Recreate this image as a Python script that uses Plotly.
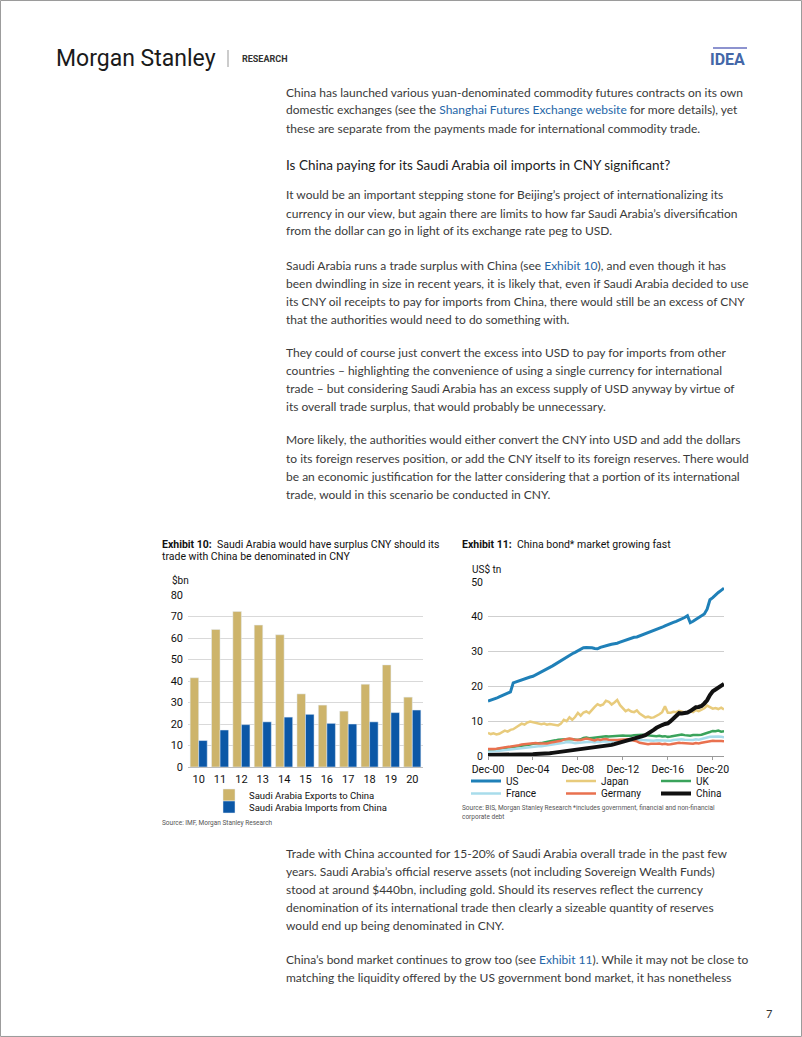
import pandas as pd
import plotly.graph_objects as go

W, H = 802, 1037

# ---------------- Exhibit 10 data ----------------
years = ["10", "11", "12", "13", "14", "15", "16", "17", "18", "19", "20"]
sa_exports = [41.5, 64.0, 72.3, 66.0, 61.5, 34.0, 28.8, 26.0, 38.5, 47.5, 32.5]
sa_imports = [12.3, 17.2, 19.7, 21.0, 23.2, 24.5, 20.3, 20.0, 21.0, 25.3, 26.5]

# ---------------- Exhibit 11 data (quarterly, Dec-00 .. Dec-21) ----------------
quarters = pd.date_range("2000-12-31", "2021-12-31", freq="QE")
us = [15.8,
      16.0, 16.3, 16.6, 17.0, 17.3, 17.6, 18.0, 18.4, 21.0, 21.3, 21.7, 22.0,
      22.3, 22.5, 22.7, 22.9, 23.3, 23.7, 24.1, 24.6, 25.0, 25.4, 25.9, 26.4,
      26.9, 27.4, 28.0, 28.6, 29.0, 29.4, 29.8, 30.3, 30.7, 31.1, 31.2, 31.2,
      31.1, 30.9, 30.8, 31.2, 31.5, 31.7, 31.9, 32.1, 32.2, 32.4, 32.7, 33.0,
      33.2, 33.5, 33.8, 34.1, 34.2, 34.5, 34.8, 35.1, 35.3, 35.6, 35.9, 36.2,
      36.6, 37.0, 37.4, 37.8, 38.1, 38.4, 38.7, 39.0, 39.4, 39.8, 40.3, 38.3,
      38.7, 39.2, 39.7, 40.1, 40.8, 42.2, 44.9, 45.5, 46.3, 47.0, 47.6, 48.2]
japan = [6.6,
         6.3, 6.5, 6.2, 6.4, 6.8, 7.3, 7.0, 7.5, 7.7, 8.2, 8.7, 9.3,
         9.0, 9.6, 9.9, 9.7, 9.4, 9.3, 9.1, 9.3, 9.0, 9.2, 9.1, 9.0,
         8.8, 9.3, 10.4, 10.0, 11.1, 10.4, 11.2, 12.4, 11.6, 12.5, 12.8, 12.3,
         13.3, 14.1, 14.9, 14.5, 14.8, 15.9, 15.6, 14.8, 15.4, 16.1, 14.6, 13.6,
         12.9, 13.3, 12.8, 12.6, 13.1, 12.2, 11.6, 11.1, 11.3, 11.0, 11.1, 11.5,
         12.0, 12.6, 14.3, 12.4, 12.4, 12.7, 12.6, 13.0, 12.8, 12.5, 12.6, 12.9,
         12.6, 13.2, 12.9, 13.3, 13.7, 14.5, 14.0, 13.6, 13.8, 13.5, 13.9, 13.4]
uk = [1.6,
      1.7, 1.8, 1.9, 2.0, 2.1, 2.2, 2.3, 2.5, 2.6, 2.7, 2.8, 3.0,
      3.1, 3.2, 3.3, 3.5, 3.5, 3.6, 3.7, 3.9, 4.0, 4.2, 4.3, 4.5,
      4.7, 4.8, 4.9, 5.0, 4.9, 4.8, 4.6, 4.6, 4.8, 5.2, 5.3, 5.1,
      5.2, 5.3, 5.5, 5.4, 5.6, 5.7, 5.6, 5.7, 5.8, 5.7, 5.8, 5.9,
      5.8, 5.7, 5.8, 6.0, 6.1, 6.2, 6.1, 6.0, 5.9, 6.0, 5.8, 5.7,
      5.8, 5.6, 5.7, 5.5, 5.6, 5.8, 6.0, 6.1, 6.2, 6.0, 5.9, 5.8,
      6.0, 5.9, 6.0, 6.1, 6.3, 6.7, 6.9, 7.2, 7.1, 7.3, 7.0, 7.1]
france = [1.2,
          1.2, 1.3, 1.4, 1.5, 1.6, 1.7, 1.8, 1.9, 2.0, 2.1, 2.2, 2.3,
          2.4, 2.5, 2.6, 2.7, 2.7, 2.8, 2.8, 2.9, 3.0, 3.1, 3.2, 3.4,
          3.5, 3.6, 3.8, 4.0, 4.0, 3.9, 3.7, 3.8, 3.9, 4.1, 4.2, 4.1,
          4.0, 3.9, 4.1, 4.0, 4.2, 4.3, 4.2, 4.1, 4.3, 4.4, 4.4, 4.5,
          4.5, 4.4, 4.5, 4.6, 4.6, 4.7, 4.6, 4.5, 4.4, 4.5, 4.4, 4.5,
          4.5, 4.4, 4.4, 4.3, 4.4, 4.6, 4.7, 4.8, 4.8, 4.7, 4.6, 4.7,
          4.6, 4.8, 4.7, 4.9, 5.0, 5.3, 5.5, 5.6, 5.5, 5.6, 5.5, 5.4]
germany = [2.0,
           1.9, 2.0, 2.1, 2.2, 2.3, 2.4, 2.5, 2.7, 2.9, 3.0, 3.1, 3.3,
           3.4, 3.5, 3.6, 3.8, 3.7, 3.6, 3.6, 3.5, 3.6, 3.8, 3.9, 4.1,
           4.2, 4.4, 4.7, 4.9, 5.0, 4.9, 4.6, 4.7, 4.6, 4.8, 5.0, 4.9,
           4.7, 4.5, 4.8, 4.6, 4.8, 4.9, 4.7, 4.6, 4.7, 4.6, 4.7, 4.8,
           4.9, 4.8, 4.6, 4.5, 4.2, 3.8, 3.6, 3.5, 3.4, 3.5, 3.4, 3.5,
           3.6, 3.4, 3.5, 3.3, 3.4, 3.6, 3.7, 3.8, 3.7, 3.6, 3.5, 3.6,
           3.5, 3.7, 3.6, 3.8, 4.0, 4.2, 4.3, 4.4, 4.3, 4.4, 4.3, 4.2]
china = [0.3,
         0.3, 0.3, 0.3, 0.3, 0.3, 0.3, 0.3, 0.4, 0.4, 0.4, 0.4, 0.4,
         0.4, 0.5, 0.5, 0.5, 0.6, 0.6, 0.7, 0.7, 0.8, 0.8, 0.9, 1.0,
         1.1, 1.2, 1.4, 1.5, 1.7, 1.8, 1.9, 2.0, 2.1, 2.2, 2.3, 2.4,
         2.5, 2.6, 2.7, 2.8, 2.9, 3.0, 3.1, 3.2, 3.4, 3.6, 3.8, 4.1,
         4.3, 4.5, 4.7, 4.9, 5.1, 5.4, 5.7, 6.0, 6.4, 6.9, 7.5, 8.1,
         8.6, 8.9, 9.2, 9.4, 10.0, 10.8, 11.7, 12.3, 12.2, 12.3, 12.5, 12.9,
         13.5, 14.0, 14.1, 14.4, 15.1, 16.0, 17.5, 18.6, 19.1, 19.7, 20.2, 20.7]

# ---------------- page text ----------------
LINK = "#2566a8"
def link(t):
    return f'<span style="color:{LINK}">{t}</span>'

body_lines = [
    (92, "China has launched various yuan-denominated commodity futures contracts on its own"),
    (110, "domestic exchanges (see the " + link("Shanghai Futures Exchange website") + " for more details), yet"),
    (128, "these are separate from the payments made for international commodity trade."),
    (195, "It would be an important stepping stone for Beijing’s project of internationalizing its"),
    (213, "currency in our view, but again there are limits to how far Saudi Arabia’s diversification"),
    (231, "from the dollar can go in light of its exchange rate peg to USD."),
    (265.5, "Saudi Arabia runs a trade surplus with China (see " + link("Exhibit 10") + "), and even though it has"),
    (283.5, "been dwindling in size in recent years, it is likely that, even if Saudi Arabia decided to use"),
    (301.5, "its CNY oil receipts to pay for imports from China, there would still be an excess of CNY"),
    (319.5, "that the authorities would need to do something with."),
    (352.5, "They could of course just convert the excess into USD to pay for imports from other"),
    (370.5, "countries – highlighting the convenience of using a single currency for international"),
    (388.5, "trade – but considering Saudi Arabia has an excess supply of USD anyway by virtue of"),
    (406.5, "its overall trade surplus, that would probably be unnecessary."),
    (440, "More likely, the authorities would either convert the CNY into USD and add the dollars"),
    (458, "to its foreign reserves position, or add the CNY itself to its foreign reserves. There would"),
    (476, "be an economic justification for the latter considering that a portion of its international"),
    (494, "trade, would in this scenario be conducted in CNY."),
    (853.5, "Trade with China accounted for 15-20% of Saudi Arabia overall trade in the past few"),
    (871.5, "years. Saudi Arabia’s official reserve assets (not including Sovereign Wealth Funds)"),
    (889.5, "stood at around $440bn, including gold. Should its reserves reflect the currency"),
    (907.5, "denomination of its international trade then clearly a sizeable quantity of reserves"),
    (925.5, "would end up being denominated in CNY."),
    (959, "China’s bond market continues to grow too (see " + link("Exhibit 11") + "). While it may not be close to"),
    (977, "matching the liquidity offered by the US government bond market, it has nonetheless"),
]
heading = "Is China paying for its Saudi Arabia oil imports in CNY significant?"

BODY_FONT = "Lato"
CHART_FONT = "Roboto"

def px_x(x):
    return x / W

def px_y(y):
    return 1 - y / H

fig = go.Figure()

# ---- Exhibit 10 bars ----
fig.add_trace(go.Bar(x=years, y=sa_exports, name="Saudi Arabia Exports to China",
                     marker_color="#CDB46B", xaxis="x", yaxis="y", legend="legend",
                     showlegend=True))
fig.add_trace(go.Bar(x=years, y=sa_imports, name="Saudi Arabia Imports from China",
                     marker_color="#0B57A6", xaxis="x", yaxis="y", legend="legend2",
                     showlegend=True))

# ---- Exhibit 11 lines ----
series = [
    ("US", us, "#1F80B8", 3, "legend3"),
    ("Japan", japan, "#E8CB7C", 2.5, "legend3"),
    ("UK", uk, "#3AA35B", 2.5, "legend3"),
    ("France", france, "#A8DCEB", 2.5, "legend4"),
    ("Germany", germany, "#E9714F", 2.5, "legend4"),
    ("China", china, "#111111", 4, "legend4"),
]
for name, vals, col, lw, lg in series:
    fig.add_trace(go.Scatter(x=quarters, y=vals, name=name, mode="lines",
                             line=dict(color=col, width=lw),
                             xaxis="x2", yaxis="y2", legend=lg, showlegend=True))

ann = []
for y, t in body_lines:
    ann.append(dict(x=px_x(284), y=px_y(y), xref="paper", yref="paper", text=t,
                    showarrow=False, xanchor="left", yanchor="middle",
                    font=dict(family=BODY_FONT, size=12, color="#3a3a3a")))
ann.append(dict(x=px_x(284), y=px_y(165), xref="paper", yref="paper", text=heading,
                showarrow=False, xanchor="left", yanchor="middle",
                font=dict(family=BODY_FONT, size=13.5, color="#222222")))

# header
ann += [
    dict(x=px_x(54), y=px_y(58), xref="paper", yref="paper", text="Morgan Stanley",
         showarrow=False, xanchor="left", yanchor="middle",
         font=dict(family="Roboto", size=23, color="#1a1a1a")),
    dict(x=px_x(240), y=px_y(59), xref="paper", yref="paper", text="<b>RESEARCH</b>",
         showarrow=False, xanchor="left", yanchor="middle",
         font=dict(family="Roboto", size=9, color="#333333")),
    dict(x=px_x(747), y=px_y(60), xref="paper", yref="paper", text="<b>IDEA</b>",
         showarrow=False, xanchor="right", yanchor="middle",
         font=dict(family="Roboto", size=16, color="#4467A8")),
    dict(x=px_x(774), y=px_y(1013), xref="paper", yref="paper", text="7",
         showarrow=False, xanchor="right", yanchor="middle",
         font=dict(family=BODY_FONT, size=11, color="#333333")),
]

# chart titles / labels
ann += [
    dict(x=px_x(160), y=px_y(544), xref="paper", yref="paper",
         text="<b>Exhibit 10:</b>  Saudi Arabia would have surplus CNY should its",
         showarrow=False, xanchor="left", yanchor="middle",
         font=dict(family=CHART_FONT, size=10.5, color="#111111")),
    dict(x=px_x(160), y=px_y(556.5), xref="paper", yref="paper",
         text="trade with China be denominated in CNY",
         showarrow=False, xanchor="left", yanchor="middle",
         font=dict(family=CHART_FONT, size=10.5, color="#111111")),
    dict(x=px_x(460), y=px_y(544), xref="paper", yref="paper",
         text="<b>Exhibit 11:</b>  China bond* market growing fast",
         showarrow=False, xanchor="left", yanchor="middle",
         font=dict(family=CHART_FONT, size=10.5, color="#111111")),
    dict(x=px_x(170), y=px_y(580), xref="paper", yref="paper", text="$bn",
         showarrow=False, xanchor="left", yanchor="middle",
         font=dict(family=CHART_FONT, size=10, color="#111111")),
    dict(x=px_x(470), y=px_y(569), xref="paper", yref="paper", text="US$ tn",
         showarrow=False, xanchor="left", yanchor="middle",
         font=dict(family=CHART_FONT, size=10, color="#111111")),
    dict(x=px_x(160), y=px_y(822.5), xref="paper", yref="paper",
         text="Source: IMF, Morgan Stanley Research",
         showarrow=False, xanchor="left", yanchor="middle",
         font=dict(family=CHART_FONT, size=6.5, color="#555555")),
    dict(x=px_x(460), y=px_y(808), xref="paper", yref="paper",
         text="Source: BIS, Morgan Stanley Research *includes government, financial and non-financial",
         showarrow=False, xanchor="left", yanchor="middle",
         font=dict(family=CHART_FONT, size=6.5, color="#555555")),
    dict(x=px_x(460), y=px_y(817), xref="paper", yref="paper",
         text="corporate debt",
         showarrow=False, xanchor="left", yanchor="middle",
         font=dict(family=CHART_FONT, size=6.5, color="#555555")),
]

shapes = [
    dict(type="rect", xref="paper", yref="paper", x0=0.0006, x1=0.9994, y0=0.0005, y1=0.9995,
         line=dict(color="#9a9a9a", width=1)),
    dict(type="line", xref="paper", yref="paper", x0=px_x(228), x1=px_x(228),
         y0=px_y(50), y1=px_y(67), line=dict(color="#999999", width=1)),
    dict(type="line", xref="paper", yref="paper", x0=px_x(713), x1=px_x(747),
         y0=px_y(48), y1=px_y(48), line=dict(color="#8d93cf", width=2)),
]

def leg(size, **kw):
    d = dict(orientation="h", xanchor="left", yanchor="middle",
             bgcolor="rgba(0,0,0,0)", itemwidth=30, tracegroupgap=0,
             font=dict(family=CHART_FONT, size=size, color="#111111"))
    d.update(kw)
    return d

fig.update_layout(
    width=W, height=H,
    showlegend=True,
    margin=dict(l=0, r=0, t=0, b=0, autoexpand=False),
    paper_bgcolor="white", plot_bgcolor="white",
    barmode="group", bargap=0.2, bargroupgap=0,
    annotations=ann, shapes=shapes,
    xaxis=dict(domain=[px_x(188), px_x(423)], anchor="y", type="category",
               showgrid=False, showline=True, linecolor="#bdbdbd", ticks="",
               automargin=False, ticklabelstandoff=2,
               tickfont=dict(family=CHART_FONT, size=11, color="#111111")),
    yaxis=dict(domain=[px_y(767), px_y(595)], anchor="x", range=[0, 80], dtick=10,
               showgrid=True, gridcolor="#d9d9d9", zeroline=False, ticks="",
               ticklabelstandoff=4, automargin=False,
               tickfont=dict(family=CHART_FONT, size=11, color="#111111")),
    xaxis2=dict(domain=[px_x(488), px_x(724)], anchor="y2", type="date",
                range=["2000-12-31", "2021-12-31"], tick0="2000-12-31", dtick="M48",
                tickformat="%b-%y", showgrid=False, showline=True, linecolor="#9a9a9a",
                ticks="outside", ticklen=3, tickcolor="#9a9a9a", automargin=False,
                tickfont=dict(family=CHART_FONT, size=10.5, color="#111111")),
    yaxis2=dict(domain=[px_y(756), px_y(582)], anchor="x2", range=[0, 50], dtick=10,
                showgrid=True, gridcolor="#cfcfcf", zeroline=False, ticks="",
                ticklabelstandoff=4, automargin=False,
                tickfont=dict(family=CHART_FONT, size=10.5, color="#111111")),
    legend=leg(9.5, x=px_x(209), y=px_y(795)),
    legend2=leg(9.5, x=px_x(209), y=px_y(807)),
    legend3=leg(10, x=px_x(466), y=px_y(781), entrywidth=50),
    legend4=leg(10, x=px_x(466), y=px_y(793.5), entrywidth=50),
)

fig.write_html("out.html", config={"displayModeBar": False},
               post_script="document.body.style.margin='0';document.body.style.overflow='hidden';")
